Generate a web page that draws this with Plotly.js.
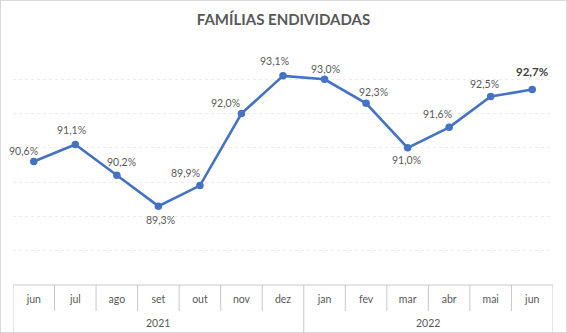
<!DOCTYPE html>
<html>
<head>
<meta charset="utf-8">
<script src="https://cdn.plot.ly/plotly-3.0.1.min.js"></script>
<style>
  html, body { margin: 0; padding: 0; background: #fff; }
  #wrap { position: relative; width: 567px; height: 333px; }
  #frame { position: absolute; left: 0; top: 0; width: 567px; height: 333px; box-sizing: border-box; border: 1px solid #d9d9d9; pointer-events: none; }
</style>
</head>
<body>
<div id="wrap">
  <div id="chart" style="width:567px;height:333px;"></div>
  <div id="frame"></div>
</div>
<script>
// ---- data ----
const months = ["jun","jul","ago","set","out","nov","dez","jan","fev","mar","abr","mai","jun"];
const years  = ["2021","2021","2021","2021","2021","2021","2021","2022","2022","2022","2022","2022","2022"];
const values = [90.6, 91.1, 90.2, 89.3, 89.9, 92.0, 93.1, 93.0, 92.3, 91.0, 91.6, 92.5, 92.7];
const labels = ["90,6%","91,1%","90,2%","89,3%","89,9%","92,0%","93,1%","93,0%","92,3%","91,0%","91,6%","92,5%","92,7%"];

// ---- label placement (style only) ----
const labelDx = [-10, -4, 5, 2, -14, -16, -9, 1, 7, -1, -12, -6, 0];
const labelDy = [11, 14, 13, -14, 12.5, 11, 14.5, 10, 11, -12.5, 13, 12, 18];

const idx = months.map((m, i) => i);
const font = "Lato, 'Open Sans', sans-serif";
const txt = "#595959";
const boxCol = "#c8c8c8";

const trace = {
  x: idx, y: values, type: "scatter", mode: "lines+markers",
  line: { color: "#4472C4", width: 2.6 },
  marker: { color: "#4472C4", size: 7.5 },
  hoverinfo: "skip", cliponaxis: false
};

const annotations = [];
values.forEach((v, i) => {
  const last = i === values.length - 1;
  annotations.push({
    x: idx[i], y: v, xref: "x", yref: "y", text: labels[i], showarrow: false,
    xanchor: "center", yanchor: "middle",
    xshift: labelDx[i], yshift: labelDy[i],
    font: { family: font, size: last ? 11.5 : 10.5, color: last ? "#404040" : txt, weight: last ? "bold" : "normal" }
  });
});

// year group labels
const plotH = 333 - 45 - 48;
const uniqYears = [...new Set(years)];
uniqYears.forEach(yr => {
  const ids = idx.filter(i => years[i] === yr);
  const c = (ids[0] + ids[ids.length - 1]) / 2;
  annotations.push({
    x: c, y: -38 / plotH, xref: "x", yref: "paper", text: yr, showarrow: false,
    xanchor: "center", yanchor: "middle",
    font: { family: font, size: 10.5, color: txt }
  });
});

// separators
const shapes = [];
const lineStyle = { color: boxCol, width: 1 };
shapes.push({ type: "line", xref: "paper", yref: "paper", x0: 0, x1: 1, y0: 0, y1: 0, line: lineStyle });
for (let i = 0; i <= months.length; i++) {
  const b = i - 0.5;
  const isGroupEdge = i === 0 || i === months.length || years[i] !== years[i - 1];
  shapes.push({
    type: "line", xref: "x", yref: "paper", x0: b, x1: b,
    y0: 0, y1: isGroupEdge ? -48 / plotH : -26 / plotH, line: lineStyle
  });
}

const layout = {
  width: 567, height: 333,
  margin: { l: 13, r: 14, t: 45, b: 48 },
  paper_bgcolor: "#fff", plot_bgcolor: "#fff",
  showlegend: false,
  title: {
    text: "FAMÍLIAS ENDIVIDADAS", x: 0.5, xanchor: "center", y: 1 - 20 / 333, yanchor: "middle",
    font: { family: font, size: 15, color: txt, weight: "bold" }
  },
  xaxis: {
    range: [-0.5, months.length - 0.5], tickvals: idx, ticktext: months,
    showgrid: false, zeroline: false, showline: false, ticks: "",
    ticklabelstandoff: 6,
    tickfont: { family: font, size: 10.5, color: txt }, fixedrange: true
  },
  yaxis: {
    range: [87, 94], dtick: 1, tick0: 87, showticklabels: false, ticks: "",
    showgrid: true, gridcolor: "#ececec", griddash: "dot", gridwidth: 1,
    zeroline: false, showline: false, fixedrange: true
  },
  annotations: annotations,
  shapes: shapes
};

Plotly.newPlot("chart", [trace], layout, { displayModeBar: false, staticPlot: true });
</script>
</body>
</html>
